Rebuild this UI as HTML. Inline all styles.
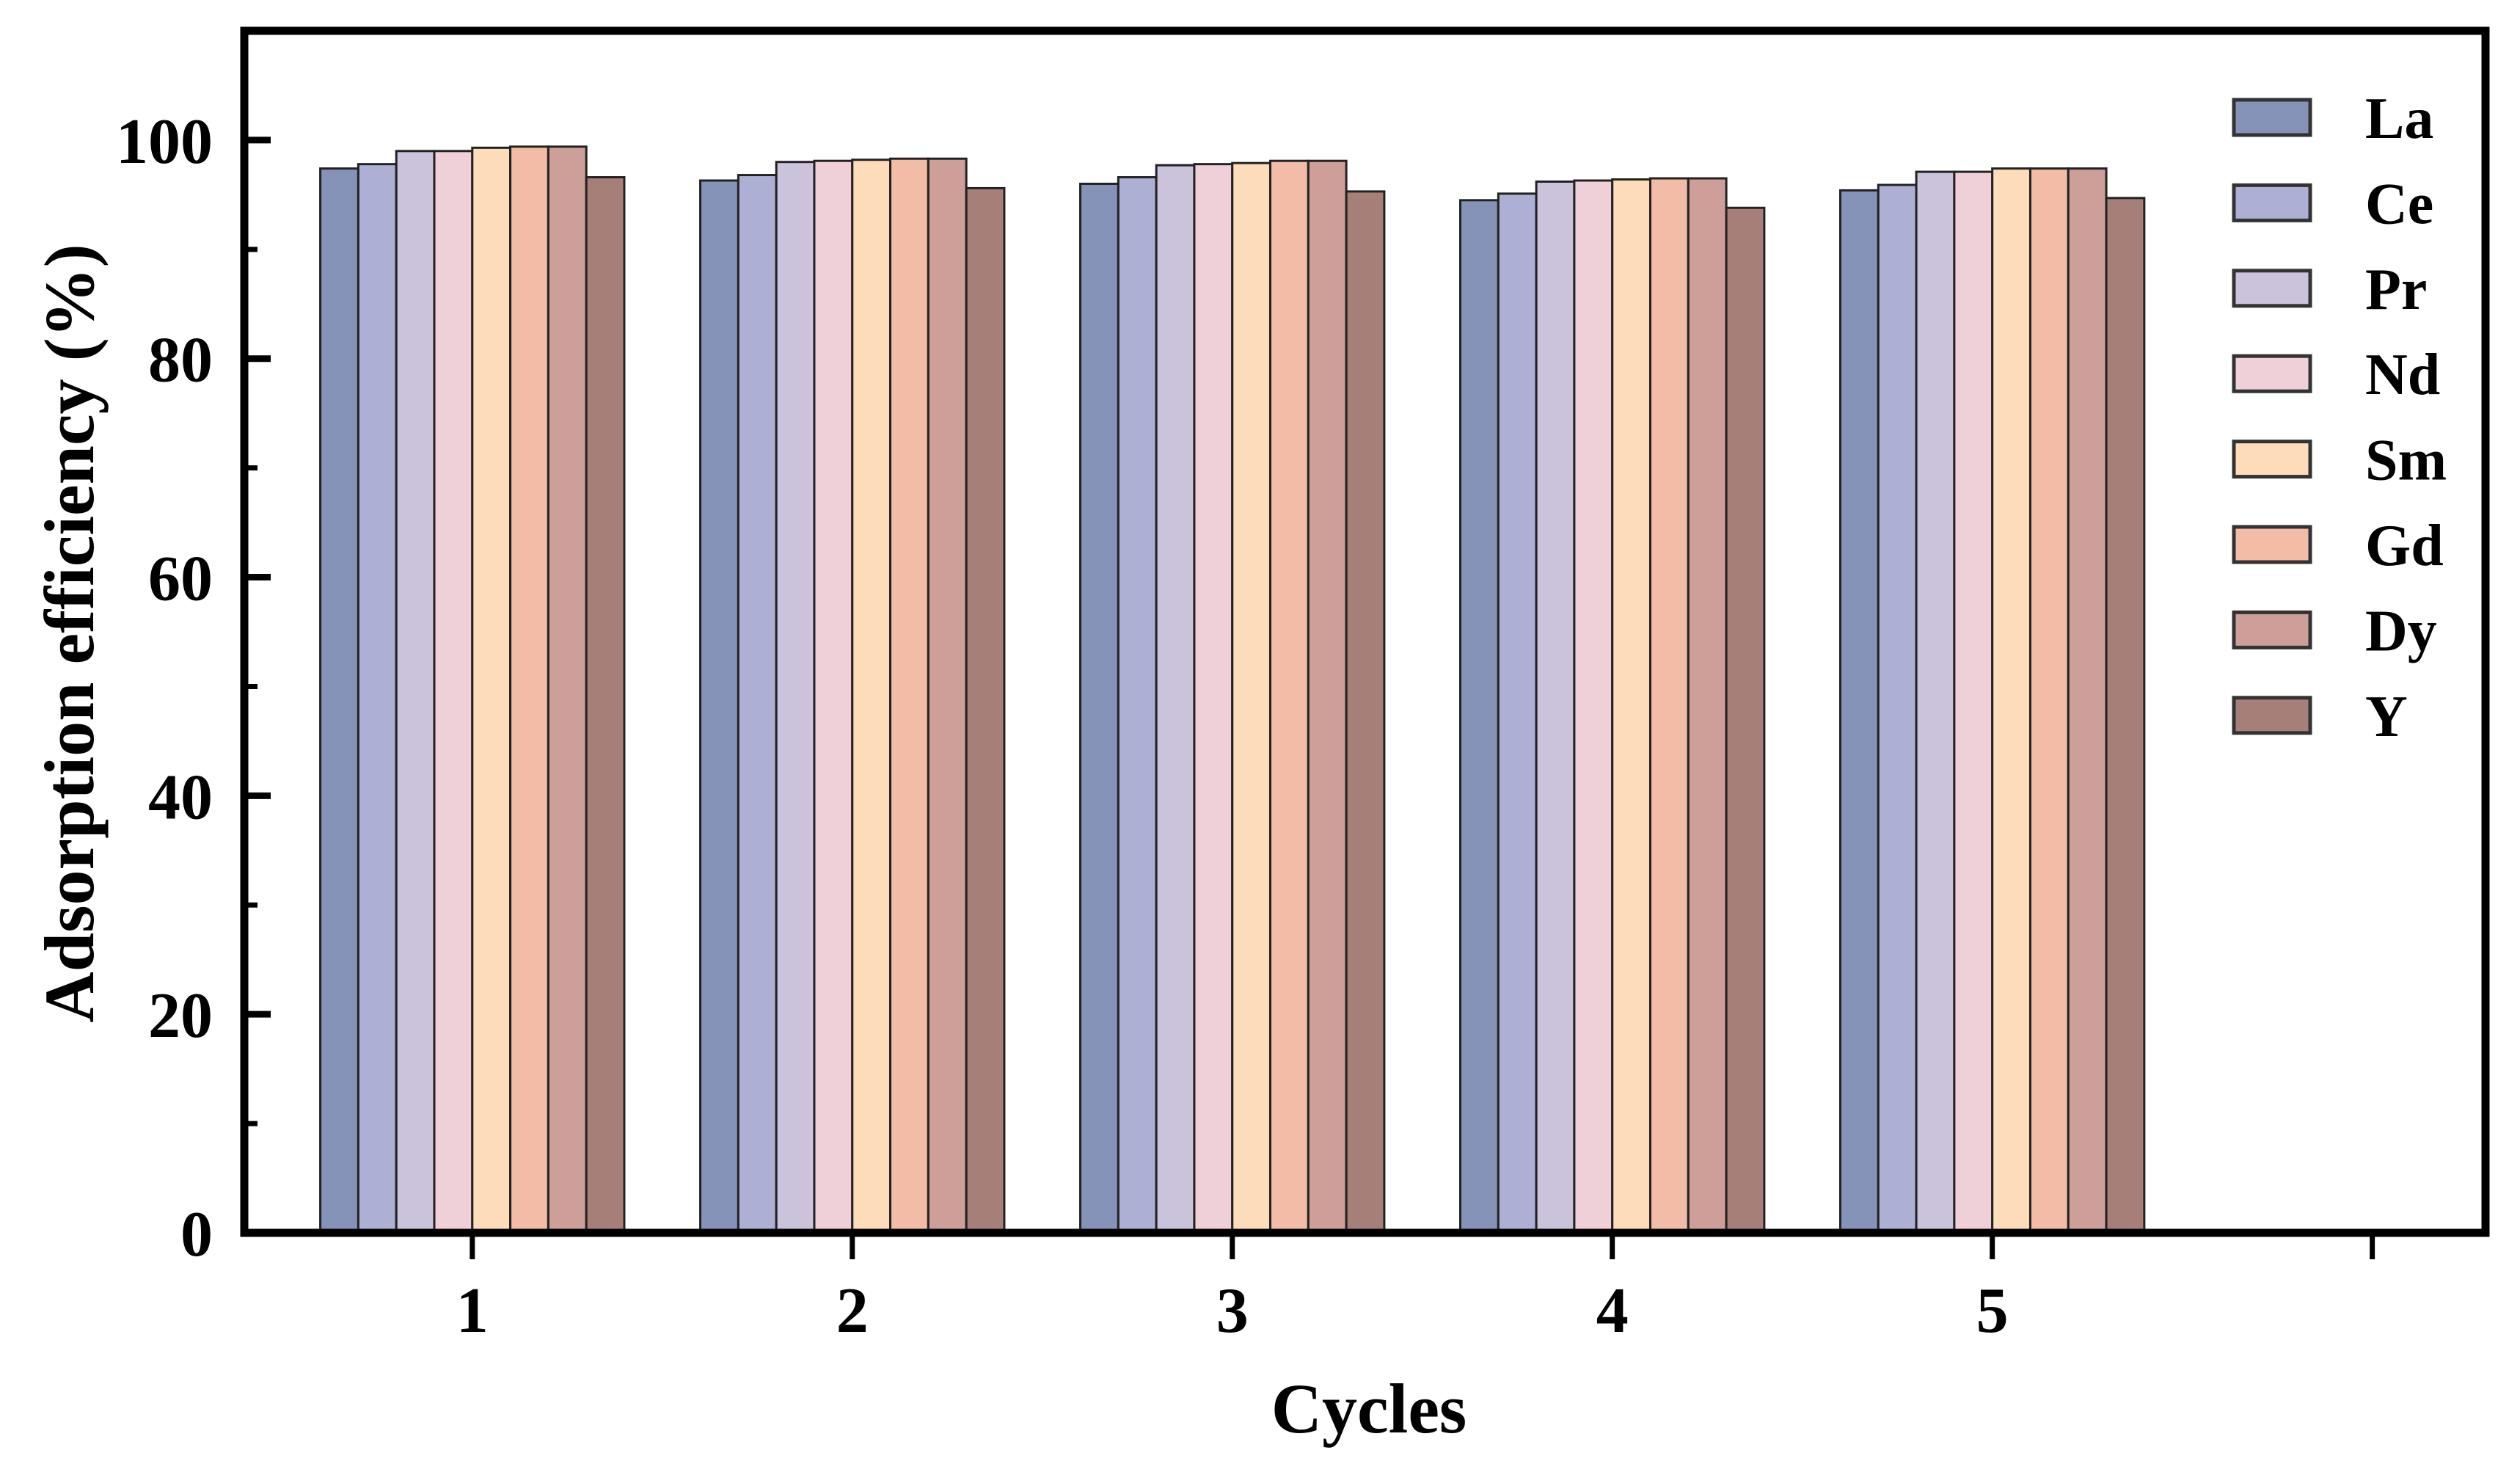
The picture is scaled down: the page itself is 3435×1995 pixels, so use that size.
<!DOCTYPE html>
<html><head><meta charset="utf-8"><style>
html,body{margin:0;padding:0;background:#fff;}
svg{display:block;}
text{font-family:"Liberation Serif",serif;font-weight:bold;fill:#000;}
</style></head><body>
<svg id="chart" width="3435" height="1995" viewBox="0 0 3435 1995" xmlns="http://www.w3.org/2000/svg">
<g id="bars"></g>
<g id="axes"></g>
<g id="legend"></g>
<text x="1866" y="1952" font-size="96" text-anchor="middle">Cycles</text>
<text x="0" y="0" font-size="96" text-anchor="middle" transform="translate(127,863) rotate(-90)">Adsorption efficiency (%)</text>
</svg>
<script>
const categories = [1, 2, 3, 4, 5];
const seriesNames = ["La", "Ce", "Pr", "Nd", "Sm", "Gd", "Dy", "Y"];
const seriesColors = ["#8593b9", "#adb0d4", "#cbc2dc", "#efd0d9", "#fddcb9", "#f2bca6", "#cd9f98", "#a67f78"];
const La = [97.4, 96.3, 96.0, 94.5, 95.4];
const Ce = [97.8, 96.8, 96.6, 95.1, 95.9];
const Pr = [99.0, 98.0, 97.7, 96.2, 97.1];
const Nd = [99.0, 98.1, 97.8, 96.3, 97.1];
const Sm = [99.3, 98.2, 97.9, 96.4, 97.4];
const Gd = [99.4, 98.3, 98.1, 96.5, 97.4];
const Dy = [99.4, 98.3, 98.1, 96.5, 97.4];
const Y = [96.6, 95.6, 95.3, 93.8, 94.7];
const yTicks = [0, 20, 40, 60, 80, 100];
const xTicks = [1, 2, 3, 4, 5, 6];
const xTickLabels = ["1", "2", "3", "4", "5", ""];

const NS = "http://www.w3.org/2000/svg";
const L = 333, R = 3388, T = 42, B = 1680;
const xMin = 0.4, xMax = 6.298, yMin = 0, yMax = 110;
function sx(v){ return L + (v - xMin) / (xMax - xMin) * (R - L); }
function sy(v){ return B - (v - yMin) / (yMax - yMin) * (B - T); }
function mk(tag, attrs, parent){
  const e = document.createElementNS(NS, tag);
  for (const k in attrs) e.setAttribute(k, attrs[k]);
  parent.appendChild(e);
  return e;
}
const allSeries = [La, Ce, Pr, Nd, Sm, Gd, Dy, Y];
const barsG = document.getElementById('bars');
const bw = 0.1;
categories.forEach((c, ci) => {
  allSeries.forEach((s, si) => {
    const x0 = sx(c - 0.4 + si * bw), x1 = sx(c - 0.4 + (si + 1) * bw);
    const r = mk('rect', {x: x0, y: sy(s[ci]), width: x1 - x0, height: sy(0) - sy(s[ci]), fill: seriesColors[si], stroke: '#222', 'stroke-width': 3}, barsG);
    
    
  });
});
const axG = document.getElementById('axes');
const frame = mk('rect', {x: L, y: T, width: R - L, height: B - T, fill: 'none', stroke: '#000', 'stroke-width': 11}, axG);


yTicks.forEach(v => {
  mk('line', {x1: L, x2: L + 36, y1: sy(v), y2: sy(v), stroke: '#000', 'stroke-width': 9}, axG);
  const t = mk('text', {x: 290, y: sy(v) + 31, 'font-size': 88, 'text-anchor': 'end'}, axG);
  t.textContent = v;
  
  
});
for (let v = 10; v < yMax; v += 20) {
  mk('line', {x1: L, x2: L + 18, y1: sy(v), y2: sy(v), stroke: '#000', 'stroke-width': 7}, axG);
}
xTicks.forEach((v, i) => {
  mk('line', {x1: sx(v), x2: sx(v), y1: B, y2: B + 36, stroke: '#000', 'stroke-width': 7}, axG);
  const t = mk('text', {x: sx(v), y: 1815, 'font-size': 88, 'text-anchor': 'middle'}, axG);
  t.textContent = xTickLabels[i];
  
  
});
const lg = document.getElementById('legend');
seriesNames.forEach((n, i) => {
  const cy = 160 + i * 116.4;
  const sw = mk('rect', {x: 3045, y: cy - 24, width: 104, height: 48, fill: seriesColors[i], stroke: '#333', 'stroke-width': 5}, lg);
  
  
  const t = mk('text', {x: 3224, y: cy + 28, 'font-size': 80}, lg);
  t.textContent = n;
  
  
});
</script>
</body></html>
